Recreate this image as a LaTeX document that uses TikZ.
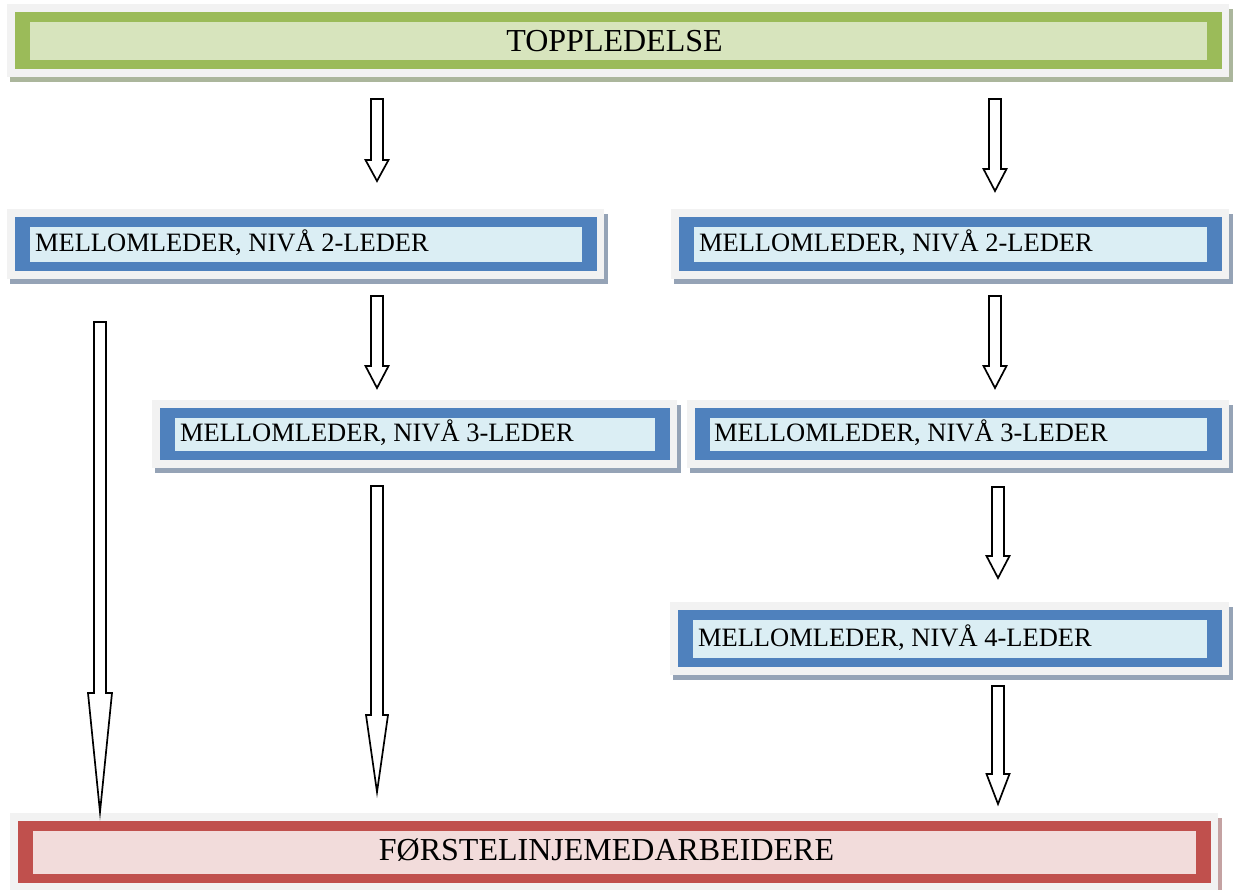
\documentclass[tikz,border=0pt]{standalone}
\usepackage{fontspec}
\setmainfont{Liberation Serif}
\usetikzlibrary{calc,positioning,fit}

\definecolor{ramme}{HTML}{F2F2F2}
\definecolor{grLinje}{HTML}{9BBB59}
\definecolor{grFyll}{HTML}{D7E4BD}
\definecolor{grSkygge}{HTML}{ABB69C}
\definecolor{blLinje}{HTML}{4F81BD}
\definecolor{blFyll}{HTML}{DBEEF4}
\definecolor{blSkygge}{HTML}{95A3B6}
\definecolor{rdLinje}{HTML}{C0504D}
\definecolor{rdFyll}{HTML}{F2DCDB}
\definecolor{rdSkygge}{HTML}{C4A2A2}

\tikzset{
  blokkpil/.style={draw=black,fill=white,line width=1.7pt,line join=miter},
  ledertekst/.style={inner sep=0pt,anchor=base west,font=\fontsize{26.5}{30}\selectfont},
  hovedtekst/.style={inner sep=0pt,anchor=base,font=\fontsize{32}{36}\selectfont},
}

% boks: #1 navn, #2 farge (gr/bl/rd), #3,#4 oppe venstre, #5,#6 nede hoyre
\newcommand\boks[6]{%
  \fill[#2Skygge] (#3+3,#4+5) rectangle (#5+4,#6+5);
  \fill[ramme] (#3,#4) rectangle (#5,#6);
  \fill[#2Linje] (#3+8,#4+8) rectangle (#5-7,#6-8);
  \path (#3+23,#4+18) coordinate (#1a) (#5-22,#6-17) coordinate (#1b);
  \node[fit=(#1a)(#1b),inner sep=0pt,fill=#2Fyll] (#1) {};
}

% pil: #1 start, #2 spiss, #3 lengde paa pilhodet, #4 halv bredde paa pilhodet
\newcommand\pil[4]{%
  \draw[blokkpil] let \p1=(#1), \p2=(#2) in
    (\x1-6pt,\y1) -- (\x1+6pt,\y1) -- (\x1+6pt,\y2+#3pt) -- (\x1+#4pt,\y2+#3pt)
    -- (\x1,\y2) -- (\x1-#4pt,\y2+#3pt) -- (\x1-6pt,\y2+#3pt) -- cycle;
}

\begin{document}
\begin{tikzpicture}[x=1pt,y=-1pt]
  \useasboundingbox (0,0) rectangle (1238,890);
  % bokser
  \boks{topp}{gr}{7}{4}{1229}{77}
  \boks{mlA}{bl}{7}{209}{604}{279}
  \boks{mlB}{bl}{671}{209}{1229}{279}
  \boks{mlC}{bl}{152}{400}{677}{468}
  \boks{mlD}{bl}{687}{400}{1229}{468}
  \boks{mlE}{bl}{670}{602}{1229}{675}
  \boks{forst}{rd}{10}{813}{1218}{891}
  % tekster
  \node[hovedtekst] (toppT) at ([xshift=-4pt,yshift=-10.5pt]topp.center) {TOPPLEDELSE};
  \node[ledertekst] (mlAT) at ([xshift=5pt,yshift=-7pt]mlA.west) {MELLOMLEDER, NIVÅ 2-LEDER};
  \node[ledertekst] (mlBT) at ([xshift=5pt,yshift=-7pt]mlB.west) {MELLOMLEDER, NIVÅ 2-LEDER};
  \node[ledertekst] (mlCT) at ([xshift=5pt,yshift=-7pt]mlC.west) {MELLOMLEDER, NIVÅ 3-LEDER};
  \node[ledertekst] (mlDT) at ([xshift=4pt,yshift=-7pt]mlD.west) {MELLOMLEDER, NIVÅ 3-LEDER};
  \node[ledertekst] (mlET) at ([xshift=5pt,yshift=-7pt]mlE.west) {MELLOMLEDER, NIVÅ 4-LEDER};
  \node[hovedtekst] (forstT) at ([xshift=-8pt,yshift=-8pt]forst.center) {FØRSTELINJEMEDARBEIDERE};
  % piler
  \foreach \i/\cx/\ya/\yb/\hl/\hb in {1/377/99/181/21/11.5, 2/995/99/191/22/11.5,
      3/377/296/388/22/11.5, 4/995/296/388/22/11.5, 5/998/487/578/22/11.5,
      6/998/686/804/30/11.5, 7/100/322/812/119/12, 8/377/486/792/77/11} {
    \coordinate (start\i) at (\cx,\ya);
    \coordinate (spiss\i) at (\cx,\yb);
    \pil{start\i}{spiss\i}{\hl}{\hb}
  }
\end{tikzpicture}
\end{document}
